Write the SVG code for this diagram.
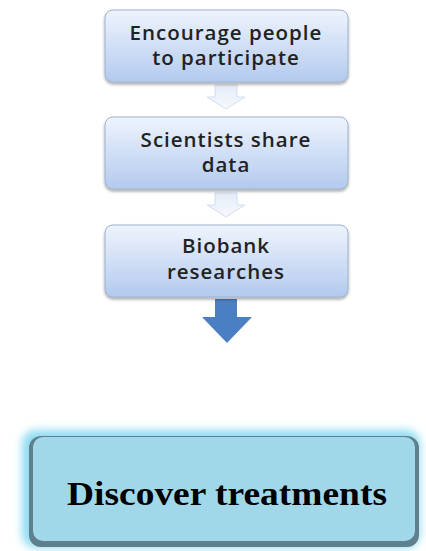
<svg xmlns="http://www.w3.org/2000/svg" width="426" height="551" viewBox="0 0 426 551">
<defs>
<linearGradient id="bg" x1="0" y1="0" x2="0" y2="1">
<stop offset="0" stop-color="#eef4fd"/>
<stop offset="1" stop-color="#b3caee"/>
</linearGradient>
<linearGradient id="ag" x1="0" y1="0" x2="0" y2="1">
<stop offset="0" stop-color="#e4ecf8"/>
<stop offset="1" stop-color="#f6f9fd"/>
</linearGradient>
<filter id="sh" x="-10%" y="-10%" width="120%" height="130%">
<feDropShadow dx="0" dy="2" stdDeviation="1.5" flood-color="#000" flood-opacity="0.35"/>
</filter>
<filter id="glow" x="-10%" y="-20%" width="120%" height="140%">
<feGaussianBlur stdDeviation="4"/>
</filter>
<style>
.box{fill:url(#bg);stroke:#9fb2cc;stroke-width:1;filter:url(#sh)}
.t{font-family:"Open Sans","Noto Sans","Liberation Sans",sans-serif;font-size:20.5px;font-weight:600;letter-spacing:1px;fill:#222;text-anchor:middle}
.la{fill:url(#ag);stroke:#d3deee;stroke-width:1}
</style>
</defs>
<rect width="426" height="551" fill="#fff"/>
<g id="connectors">
<path class="la" d="M215,85 H237 V97 H245 L226,109 L207,97 H215 Z"/>
<path class="la" d="M215,193 H237 V205 H245 L226,217 L207,205 H215 Z"/>
<path d="M215,299 H237 V317 H252 L227,343 L202,317 H215 Z" fill="#4a7fc1"/>
</g>
<g id="n1">
<rect class="box" x="105" y="10" width="243" height="72" rx="8"/>
<text class="t" x="226" y="40">Encourage people</text>
<text class="t" x="226" y="65">to participate</text>
</g>
<g id="n2">
<rect class="box" x="105" y="117" width="243" height="72" rx="8"/>
<text class="t" x="226" y="147">Scientists share</text>
<text class="t" x="226" y="172">data</text>
</g>
<g id="n3">
<rect class="box" x="105" y="225" width="243" height="72" rx="8"/>
<text class="t" x="226" y="253">Biobank</text>
<text class="t" x="226" y="279">researches</text>
</g>
<g id="n4">
<rect x="22" y="430" width="398" height="118" rx="14" fill="#8fdcf2" filter="url(#glow)"/>
<rect x="29" y="436" width="390" height="111" rx="12" fill="#5f7f8c"/>
<rect x="33" y="437" width="382" height="104" rx="10" fill="#a0d8ea"/>
<text x="227" y="505" font-family="Liberation Serif,serif" font-weight="bold" font-size="33" fill="#000" text-anchor="middle" textLength="320" lengthAdjust="spacingAndGlyphs">Discover treatments</text>
</g>
</svg>
